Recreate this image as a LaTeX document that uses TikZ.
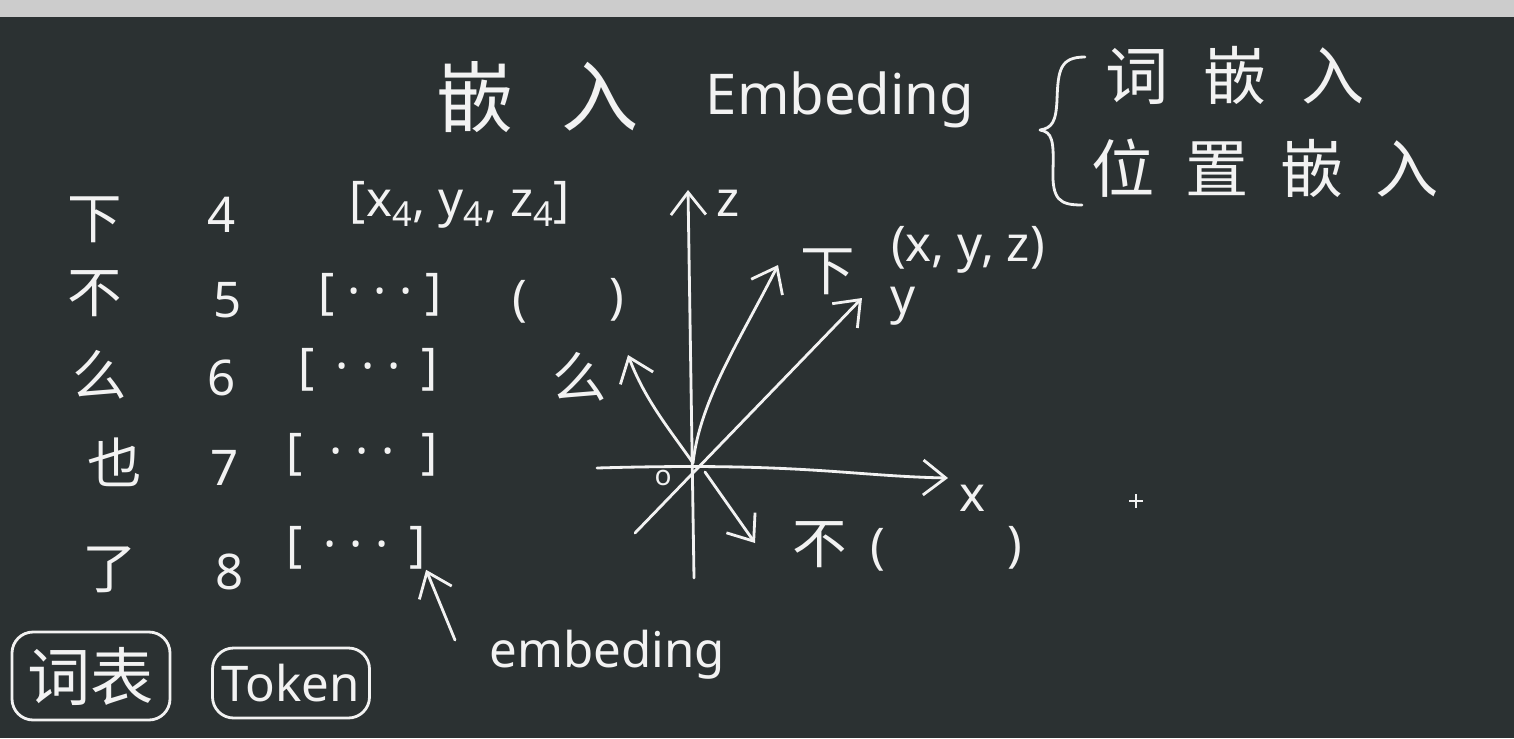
\documentclass[tikz,border=0pt]{standalone}
\usepackage{fontspec}
\setmainfont{Noto Sans}
\newfontfamily\cjk{Noto Sans CJK SC}
\usetikzlibrary{arrows.meta}
\definecolor{board}{RGB}{43,49,50}
\definecolor{bar}{RGB}{204,204,204}
\definecolor{chalk}{RGB}{242,242,242}
\newcommand{\cjkbig}{\cjk\fontsize{44}{50}\selectfont}
\newcommand{\cjkmid}{\cjk\fontsize{36}{42}\selectfont}
\newcommand{\cjksmall}{\cjk\fontsize{31}{36}\selectfont}
\newcommand{\latbig}{\fontsize{32}{38}\selectfont}
\newcommand{\latmid}{\fontsize{28}{32}\selectfont}

\begin{document}
\begin{tikzpicture}[x=0.02cm,y=-0.02cm,
  chalkline/.style={draw=chalk, line width=1.6pt, line cap=round, line join=round},
  hand/.style={text=chalk, inner sep=0pt},
  arr/.style={chalkline, -{Straight Barb[length=4.5mm,width=7mm,line width=1.6pt]}},
  tagbox/.style={hand, draw=chalk, line width=1.6pt, rounded corners=12pt, font=\cjkmid}]
		\useasboundingbox (0,0) rectangle (1514,738);
		\fill[board] (0,0) rectangle (1514,738); % board
		\fill[bar] (0,0) rectangle (1514,17); % toolbar
		
		% title
		\node[hand, font=\cjkbig] (qian) at (475,97) {嵌};
		\node[hand, font=\cjkbig] (ru) at (600,97) {入};
		\node[hand, font=\latbig] (embTitle) at (840,100) {Embeding};
		\draw[chalkline] (1085,57) .. controls (1060,57) and (1058,70) .. (1057,100)
			.. controls (1056,122) and (1052,128) .. (1040,130)
			.. controls (1052,132) and (1054,140) .. (1053,170)
			.. controls (1052,200) and (1060,205) .. (1082,205); % brace
		\node[hand, font=\cjkmid] (wordEmb) at (1235,75) {词\hspace{0.55em}嵌\hspace{0.55em}入};
		\node[hand, font=\cjkmid] (posEmb) at (1265,168) {位\hspace{0.5em}置\hspace{0.5em}嵌\hspace{0.5em}入};
		
		% vocabulary table
		\node[hand, font=\cjksmall] (w1) at (95,220) {下};
		\node[hand, font=\cjksmall] (w2) at (95,294) {不};
		\node[hand, font=\cjksmall] (w3) at (100,375) {么};
		\node[hand, font=\cjksmall] (w4) at (115,462) {也};
		\node[hand, font=\cjksmall] (w5) at (110,570) {了};
		
		\node[hand, font=\latmid] (id1) at (222,215) {4};
		\node[hand, font=\latmid] (id2) at (228,300) {5};
		\node[hand, font=\latmid] (id3) at (222,378) {6};
		\node[hand, font=\latmid] (id4) at (225,468) {7};
		\node[hand, font=\latmid] (id5) at (230,572) {8};
		
		\node[hand, font=\latmid] (vec1) at (460,205) {[x\textsubscript{4}, y\textsubscript{4}, z\textsubscript{4}]};
		\node[hand, font=\latmid] (vec2) at (380,295) {[ · · · ]};
		\node[hand, font=\latmid] (vec3) at (368,370) {[ \,· · · \,]};
		\node[hand, font=\latmid] (vec4) at (362,455) {[ \;· · · \;]};
		\node[hand, font=\latmid] (vec5) at (356,548) {[ \,· · · \,]};
		\node[hand, font=\latmid] (parL) at (520,302) {(};
		\node[hand, font=\latmid] (parR) at (617,300) {)};
		
		\node[tagbox, minimum width=158*0.02cm, minimum height=88*0.02cm] (vocab) at (91,676) {词表};
		\node[tagbox, font=\latmid, minimum width=157*0.02cm, minimum height=70*0.02cm] (token) at (291,683) {Token};
		
		\node[hand, font=\latmid] (embText) at (607,655) {embeding};
		\coordinate (embTail) at (455,640);
		\draw[arr] (embTail) -- (vec5.south east);
		
		% axes
		\coordinate (O) at (693,463);
		\coordinate (zBot) at (694,578);
		\coordinate (zTop) at (688,190);
		\coordinate (xLeft) at (597,468);
		\coordinate (xRight) at (948,478);
		\coordinate (yLow) at (635,533);
		\coordinate (yHigh) at (862,298);
		\draw[arr] (zBot) -- (zTop);
		\draw[arr] (xLeft) .. controls (800,462) and (850,476) .. (xRight);
		\draw[arr] (yLow) -- (yHigh);
		\node[hand, font=\latmid] (zLab) at (728,203) {z};
		\node[hand, font=\latmid] (xLab) at (972,498) {x};
		\node[hand, font=\latmid] (yLab) at (903,306) {y};
		\node[hand, font=\fontsize{16}{18}\selectfont] (zero) at (663,478) {o};
		
		% token vectors
		\coordinate (tipXia) at (778,265);
		\coordinate (tipMe) at (628,355);
		\coordinate (tailBu) at (705,472);
		\coordinate (tipBu) at (755,543);
		\draw[arr] (O) .. controls (700,400) and (740,340) .. (tipXia);
		\draw[arr] (O) .. controls (670,430) and (645,400) .. (tipMe);
		\draw[arr] (tailBu) -- (tipBu);
		\node[hand, font=\cjksmall] (xiaLab) at (828,272) {下};
		\node[hand, font=\latmid] (xiaVec) at (968,250) {(x, y, z)};
		\node[hand, font=\cjksmall] (meLab) at (580,377) {么};
		\node[hand, font=\cjksmall] (buLab) at (820,545) {不};
		\node[hand, font=\latmid] (buL) at (878,550) {(};
		\node[hand, font=\latmid] (buR) at (1015,548) {)};
		
		% cursor
		\draw[chalk, line width=0.6pt] (1129,501) -- (1143,501) (1136,494) -- (1136,508);
	\end{tikzpicture}
\end{document}
